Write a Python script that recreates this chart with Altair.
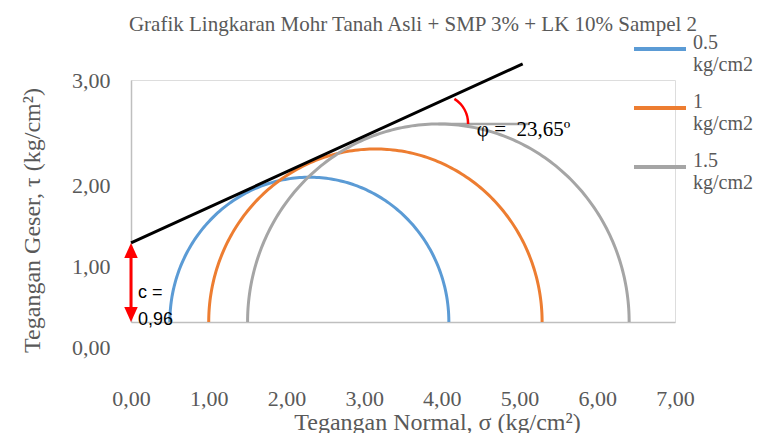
import altair as alt
import pandas as pd
import numpy as np

# ---- data ----
series = ["0.5 kg/cm2", "1 kg/cm2", "1.5 kg/cm2"]
sigma3 = [0.5, 1.0, 1.5]          # minor principal stress (circle left end)
sigma1 = [4.09, 5.29, 6.41]       # major principal stress (circle right end)
colors = ["#5B9BD5", "#ED7D31", "#A5A5A5"]

env_sigma = [0.0, 5.04]           # failure envelope end points
env_tau = [0.98, 3.20]

c_text = ["c =", "0,96"]
c_text_sigma = [0.09, 0.09]
c_text_tau = [0.36, 0.03]
c_value = 0.98                    # top of the red arrow (where the envelope starts)

phi_text = "φ =\u00a0 23,65º"
phi_text_sigma = 4.45
phi_text_tau = 2.38
ref_line_end = 5.13               # gray horizontal reference line end (sigma)

x_ticks = [0, 1, 2, 3, 4, 5, 6, 7]
y_ticks = [0, 1, 2, 3]

# ---- build tables ----
rows = []
for name, s3, s1 in zip(series, sigma3, sigma1):
    cen = (s1 + s3) / 2
    rad = (s1 - s3) / 2
    for k, t in enumerate(np.linspace(0, np.pi, 181)):
        rows.append({"series": name, "k": k,
                     "sigma": cen - rad * np.cos(t), "tau": rad * np.sin(t)})
circles = pd.DataFrame(rows)
env = pd.DataFrame({"sigma": env_sigma, "tau": env_tau})

g_cen = (sigma1[2] + sigma3[2]) / 2
g_rad = (sigma1[2] - sigma3[2]) / 2
ref = pd.DataFrame({"sigma": [g_cen], "sigma2": [ref_line_end], "tau": [g_rad]})
ctext = pd.DataFrame({"sigma": c_text_sigma, "tau": c_text_tau, "t": c_text})
phit = pd.DataFrame({"sigma": [phi_text_sigma], "tau": [phi_text_tau], "t": [phi_text]})
arrow = pd.DataFrame({"sigma": [0.0], "lo": [0.12], "hi": [c_value - 0.14]})
tip_up = pd.DataFrame({"sigma": [0.0], "tau": [c_value]})
tip_dn = pd.DataFrame({"sigma": [0.0], "tau": [0.0]})

SERIF = "Liberation Serif"
LEG_FONT = "Times"
GREY = "#595959"

xs = alt.Scale(domain=[0, 7], nice=False, zero=False)
ys = alt.Scale(domain=[0, 3], nice=False)

x_axis = alt.Axis(values=x_ticks, labelExpr="replace(format(datum.value, '.2f'), '.', ',')",
                  grid=False, ticks=False, tickSize=0, domainColor="#BFBFBF", domainWidth=1.5,
                  labelFont=SERIF, labelFontSize=22, labelColor=GREY, labelPadding=76,
                  labelBaseline="middle", labelFlush=False,
                  title="Tegangan Normal, σ (kg/cm²)", titleFont=SERIF, titleFontSize=24,
                  titleFontWeight="normal", titleColor=GREY, titleX=306, titleY=107,
                  titleAlign="center", titleBaseline="alphabetic")
y_axis = alt.Axis(values=y_ticks, labelExpr="replace(format(datum.value, '.2f'), '.', ',')",
                  grid=False, ticks=False, tickSize=0, domainColor="#BFBFBF", domainWidth=1.5,
                  labelFont=SERIF, labelFontSize=22, labelColor=GREY, labelPadding=21,
                  labelFlush=False,
                  labelOffset=alt.condition("datum.value == 3", alt.value(0), alt.value(25)),
                  title="Tegangan Geser, τ (kg/cm²)", titleFont=SERIF, titleFontSize=24,
                  titleFontWeight="normal", titleColor=GREY, titleX=-99, titleY=140,
                  titleAngle=270, titleAlign="center", titleBaseline="middle")

base_x = alt.X("sigma:Q", scale=xs, axis=x_axis)
base_y = alt.Y("tau:Q", scale=ys, axis=y_axis)

circ = alt.Chart(circles).mark_line(strokeWidth=3).encode(
    x=base_x, y=base_y,
    color=alt.Color("series:N", scale=alt.Scale(domain=series, range=colors),
                    legend=alt.Legend(title=None, orient="none", legendX=501, legendY=-59,
                                      symbolType="stroke", symbolSize=2704, symbolStrokeWidth=4,
                                      labelFont=LEG_FONT, labelFontSize=20, labelColor=GREY,
                                      labelExpr="split(datum.label, ' ')",
                                      labelBaseline="alphabetic", labelOffset=5,
                                      rowPadding=5, padding=0)),
    order="k:Q",
)

envelope = alt.Chart(env).mark_line(color="black", strokeWidth=3).encode(
    x=alt.X("sigma:Q", scale=xs), y=alt.Y("tau:Q", scale=ys))

refline = alt.Chart(ref).mark_rule(color="#A5A5A5", strokeWidth=2.5).encode(
    x="sigma:Q", x2="sigma2:Q", y="tau:Q")

arc = alt.Chart(ref).mark_arc(radius=31, radius2=28.5, theta=0.57, theta2=1.5708,
                              color="#FF0000").encode(x="sigma:Q", y="tau:Q")

shaft = alt.Chart(arrow).mark_rule(color="#FF0000", strokeWidth=3).encode(
    x="sigma:Q", y="lo:Q", y2="hi:Q")
up = alt.Chart(tip_up).mark_point(shape="M 0 0 L 0.45 1 L -0.45 1 Z", size=900,
                                  filled=True, color="#FF0000", opacity=1).encode(
    x="sigma:Q", y="tau:Q")
dn = alt.Chart(tip_dn).mark_point(shape="M 0 0 L 0.45 -1 L -0.45 -1 Z", size=900,
                                  filled=True, color="#FF0000", opacity=1).encode(
    x="sigma:Q", y="tau:Q")

ctxt = alt.Chart(ctext).mark_text(font="Liberation Sans", fontSize=18, color="black",
                                  align="left", baseline="middle").encode(
    x="sigma:Q", y="tau:Q", text="t:N")
ptxt = alt.Chart(phit).mark_text(font=SERIF, fontSize=21, color="black",
                                 align="left", baseline="middle").encode(
    x="sigma:Q", y="tau:Q", text="t:N")

chart = alt.layer(circ, refline, envelope, arc, shaft, up, dn, ctxt, ptxt).properties(
    width=544, height=242,
    autosize=alt.AutoSizeParams(type="none"),
    padding={"left": 123, "top": 72, "right": 81, "bottom": 111},
    title=alt.TitleParams("Grafik Lingkaran Mohr Tanah Asli + SMP 3% + LK 10% Sampel 2",
                          font=SERIF, fontSize=21, fontWeight="normal", color=GREY,
                          anchor="middle", frame="group", dx=10, offset=-14),
).configure_view(stroke=None).configure(background="white").configure_legend(
    labelFont=LEG_FONT, labelFontSize=20, labelColor=GREY)

chart.save("out.html", embed_options={"renderer": "svg", "actions": False})
